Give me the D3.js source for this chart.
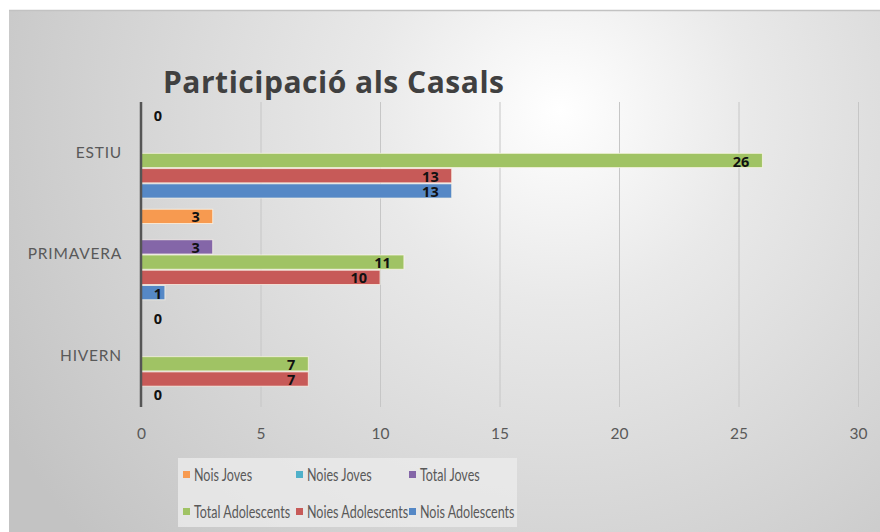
<!DOCTYPE html>
<html>
<head>
<meta charset="utf-8">
<script src="https://cdn.jsdelivr.net/npm/d3@7"></script>
<style>
  html, body { margin: 0; padding: 0; background: #ffffff; }
  svg { display: block; }
</style>
</head>
<body>
<svg id="chart" width="880" height="532"></svg>
<script>
// Seasons, listed top to bottom as they appear on the axis
const categories = ["ESTIU", "PRIMAVERA", "HIVERN"];

// Participants per series, in the same order as categories (null = no data)
const noisJoves        = [0, 3, 0];
const noiesJoves       = [null, null, null];
const totalJoves       = [null, 3, null];
const totalAdolescents = [26, 11, 7];
const noiesAdolescents = [13, 10, 7];
const noisAdolescents  = [13, 1, 0];

const seriesNames = ["Nois Joves", "Noies Joves", "Total Joves",
                     "Total Adolescents", "Noies Adolescents", "Nois Adolescents"];
const seriesValues = [noisJoves, noiesJoves, totalJoves,
                      totalAdolescents, noiesAdolescents, noisAdolescents];
const seriesColors = ["#f79a50", "#4fb0c9", "#8466a8", "#a0c364", "#c75a58", "#5588c6"];

const xTicks = [0, 5, 10, 15, 20, 25, 30];
const title = "Participació als Casals";

const svg = d3.select("#chart");
const W = 880, H = 532;
const labelFont = "Lato, 'Open Sans', sans-serif";

// Background panel with soft radial shading
const defs = svg.append("defs");
const grad = defs.append("radialGradient")
  .attr("id", "bg").attr("gradientUnits", "userSpaceOnUse")
  .attr("cx", 560).attr("cy", 110).attr("r", 640);
grad.append("stop").attr("offset", "0%").attr("stop-color", "#ffffff");
grad.append("stop").attr("offset", "30%").attr("stop-color", "#e9e9e9");
grad.append("stop").attr("offset", "100%").attr("stop-color", "#c3c3c3");

svg.append("rect").attr("x", 9).attr("y", 10).attr("width", W - 9).attr("height", H - 10)
  .attr("fill", "url(#bg)");
svg.append("line").attr("x1", 9).attr("x2", W).attr("y1", 10.5).attr("y2", 10.5)
  .attr("stroke", "#c2c2c2").attr("stroke-width", 1.5);

const plot = { left: 141, right: 858, top: 102, bottom: 407 };

const x = d3.scaleLinear().domain([0, 30]).range([plot.left, plot.right]);
const y0 = d3.scaleBand().domain(categories).range([plot.top, plot.bottom])
  .paddingInner(0.1).paddingOuter(0.05);
const y1 = d3.scaleBand().domain(seriesNames).range([0, y0.bandwidth()]);

// Vertical gridlines
svg.append("g").selectAll("line")
  .data(xTicks.filter(t => t > 0))
  .join("line")
  .attr("x1", d => x(d) + 0.5).attr("x2", d => x(d) + 0.5)
  .attr("y1", plot.top).attr("y2", plot.bottom)
  .attr("stroke", "#c6c6c6").attr("stroke-width", 1);

// X axis tick labels
const xAxis = d3.axisBottom(x).tickValues(xTicks).tickSize(0).tickPadding(0);
const gx = svg.append("g").attr("transform", `translate(0,${plot.bottom + 27})`).call(xAxis);
gx.select(".domain").remove();
gx.selectAll("text")
  .attr("fill", "#595959").attr("font-family", labelFont)
  .attr("font-size", 15.5).attr("dy", "0.32em");

// Category labels
const yAxis = d3.axisLeft(y0).tickSize(0).tickPadding(0);
const gy = svg.append("g").attr("transform", `translate(${plot.left - 19},0)`).call(yAxis);
gy.select(".domain").remove();
gy.selectAll("text")
  .attr("fill", "#595959").attr("font-family", labelFont)
  .attr("font-size", 15.5).attr("letter-spacing", 0.8);

// Bars
const rows = [];
categories.forEach((c, ci) => {
  seriesNames.forEach((s, si) => {
    rows.push({ cat: c, series: s, color: seriesColors[si], value: seriesValues[si][ci] });
  });
});
const present = rows.filter(d => d.value !== null);

svg.append("g").selectAll("rect")
  .data(present.filter(d => d.value > 0))
  .join("rect")
  .attr("x", x(0))
  .attr("y", d => y0(d.cat) + y1(d.series) + 0.5)
  .attr("width", d => x(d.value) - x(0))
  .attr("height", y1.bandwidth() - 1)
  .attr("fill", d => d.color)
  .attr("stroke", "rgba(255,250,235,0.7)")
  .attr("stroke-width", 1);

// Value labels, inside the bar end
svg.append("g").selectAll("text")
  .data(present)
  .join("text")
  .attr("x", d => Math.max(x(d.value) - 13, x(0) + 21))
  .attr("y", d => y0(d.cat) + y1(d.series) + y1.bandwidth() / 2 + 1)
  .attr("dy", "0.35em")
  .attr("text-anchor", "end")
  .attr("font-family", "'Open Sans', sans-serif")
  .attr("font-weight", "bold")
  .attr("font-size", 14.5)
  .attr("fill", "#111111")
  .text(d => d.value);

// Vertical axis line
svg.append("line")
  .attr("x1", x(0)).attr("x2", x(0))
  .attr("y1", plot.top).attr("y2", plot.bottom)
  .attr("stroke", "#555555").attr("stroke-width", 2.5);

// Title, spread to its full width
const titleText = svg.append("text")
  .attr("x", 163).attr("y", 93)
  .attr("font-family", "'Open Sans', sans-serif")
  .attr("font-weight", "bold")
  .attr("font-size", 30)
  .attr("fill", "#404040")
  .text(title);
const titleWidth = 341;
const natural = titleText.node().getComputedTextLength();
titleText.attr("letter-spacing", Math.max(0, (titleWidth - natural) / (title.length - 1)));

// Legend
const legend = svg.append("g");
legend.append("rect").attr("x", 178).attr("y", 458).attr("width", 339).attr("height", 69)
  .attr("fill", "#ebebeb").attr("opacity", 0.8);
const legendCols = [183, 296, 409];
const legendRows = [475, 512];
const legendItems = legend.selectAll("g.item")
  .data(seriesNames.map((s, i) => ({ name: s, color: seriesColors[i], i })))
  .join("g").attr("class", "item")
  .attr("transform", d => `translate(${legendCols[d.i % 3]},${legendRows[Math.floor(d.i / 3)]})`);
legendItems.append("rect").attr("x", 0).attr("y", -4).attr("width", 7).attr("height", 7)
  .attr("fill", d => d.color);
legendItems.append("text")
  .attr("transform", "translate(11,0) scale(0.76,1)")
  .attr("dy", "0.35em")
  .attr("font-family", labelFont)
  .attr("font-size", 16.5)
  .attr("fill", "#595959")
  .text(d => d.name);
</script>
</body>
</html>
